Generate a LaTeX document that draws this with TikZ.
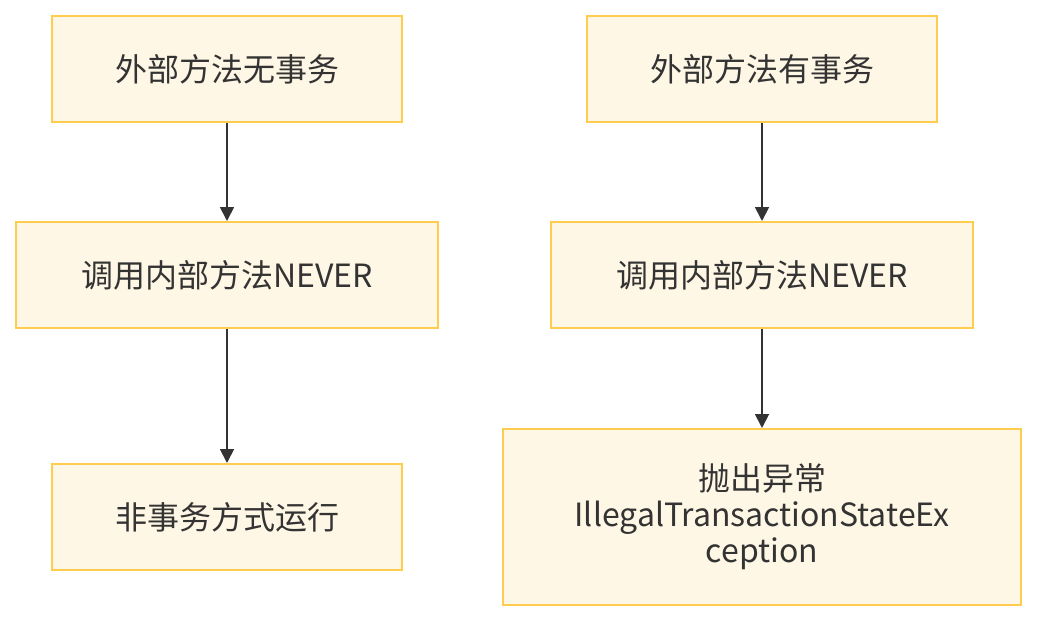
\documentclass[tikz,border=0pt]{standalone}
\usepackage{fontspec}
\setmainfont{Noto Sans CJK SC}
\usetikzlibrary{arrows.meta}
\definecolor{boxfill}{HTML}{FFF7E5}
\definecolor{boxdraw}{HTML}{FFCC4D}
\definecolor{txt}{HTML}{333333}
\begin{document}
\begin{tikzpicture}[x=1pt,y=-1pt,
  box/.style={draw=boxdraw,fill=boxfill,line width=2pt,text=txt,font=\fontsize{32}{36}\selectfont,align=center,inner sep=0pt},
  conn/.style={draw=txt,line width=1.8pt,-{Triangle[width=14pt,length=14pt]}}]
\useasboundingbox (0,0) rectangle (1038,622);
\node[box,minimum width=350pt,minimum height=106pt] (a1) at (227,69) {\raisebox{2pt}{外部方法无事务}};
\node[box,minimum width=422pt,minimum height=106pt] (a2) at (227,275) {\raisebox{2pt}{调用内部方法NEVER}};
\node[box,minimum width=350pt,minimum height=106pt] (a3) at (227,517) {\raisebox{2pt}{非事务方式运行}};
\node[box,minimum width=350pt,minimum height=106pt] (b1) at (762,69) {\raisebox{2pt}{外部方法有事务}};
\node[box,minimum width=422pt,minimum height=106pt] (b2) at (762,275) {\raisebox{2pt}{调用内部方法NEVER}};
\node[box,minimum width=518pt,minimum height=176pt] (b3) at (762,517) {抛出异常\\IllegalTransactionStateEx\\ception};
\draw[conn] (a1) -- (a2);
\draw[conn] (a2) -- (a3);
\draw[conn] (b1) -- (b2);
\draw[conn] (b2) -- (b3);
\end{tikzpicture}
\end{document}
